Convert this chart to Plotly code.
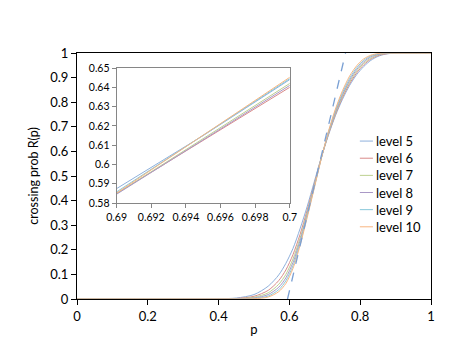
import plotly.graph_objects as go

# data
p = [0, 0.1, 0.2, 0.3, 0.4, 0.45, 0.5, 0.54, 0.57, 0.59, 0.61, 0.63, 0.65, 0.67,
     0.69, 0.71, 0.73, 0.75, 0.77, 0.79, 0.81, 0.83, 0.85, 0.87, 0.9, 0.95, 1.0]

level5 = [0, 0, 0, 0, 0.001, 0.004, 0.018, 0.052, 0.098, 0.145, 0.205, 0.285, 0.375, 0.475,
          0.575, 0.665, 0.745, 0.812, 0.868, 0.912, 0.945, 0.970, 0.986, 0.995, 1.0, 1.0, 1.0]
level6 = [0, 0, 0, 0, 0.0005, 0.002, 0.011, 0.035, 0.075, 0.118, 0.180, 0.262, 0.360, 0.466,
          0.574, 0.668, 0.750, 0.819, 0.875, 0.919, 0.952, 0.975, 0.989, 0.996, 1.0, 1.0, 1.0]
level7 = [0, 0, 0, 0, 0, 0.001, 0.007, 0.025, 0.060, 0.100, 0.162, 0.247, 0.350, 0.460,
          0.573, 0.671, 0.755, 0.825, 0.882, 0.926, 0.958, 0.979, 0.992, 0.998, 1.0, 1.0, 1.0]
level8 = [0, 0, 0, 0, 0, 0.0005, 0.004, 0.018, 0.048, 0.086, 0.148, 0.236, 0.342, 0.456,
          0.572, 0.674, 0.760, 0.831, 0.889, 0.933, 0.964, 0.984, 0.994, 0.999, 1.0, 1.0, 1.0]
level9 = [0, 0, 0, 0, 0, 0, 0.002, 0.012, 0.038, 0.074, 0.135, 0.226, 0.336, 0.452,
          0.571, 0.677, 0.766, 0.839, 0.897, 0.940, 0.970, 0.988, 0.996, 0.999, 1.0, 1.0, 1.0]
level10 = [0, 0, 0, 0, 0, 0, 0.001, 0.008, 0.030, 0.063, 0.124, 0.217, 0.330, 0.449,
           0.570, 0.680, 0.772, 0.847, 0.906, 0.948, 0.976, 0.991, 0.998, 1.0, 1.0, 1.0, 1.0]

# zoomed-in part (inset)
p_zoom = [0.69, 0.695, 0.70]
zoom5 = [0.5875, 0.6150, 0.6440]
zoom6 = [0.5850, 0.6125, 0.6400]
zoom7 = [0.5848, 0.6135, 0.6420]
zoom8 = [0.5846, 0.6128, 0.6410]
zoom9 = [0.5858, 0.6150, 0.6445]
zoom10 = [0.5852, 0.6152, 0.6452]

# dashed tangent line
tangent_p = [0.5947, 0.7586]
tangent_r = [0, 1]

names = ["level 5", "level 6", "level 7", "level 8", "level 9", "level 10"]
colors = ["#8eb0dc", "#d98a88", "#bcd08f", "#a998c6", "#88c8da", "#f8b580"]
main_series = [level5, level6, level7, level8, level9, level10]
zoom_series = [zoom5, zoom6, zoom7, zoom8, zoom9, zoom10]

fig = go.Figure()

for name, col, ys in zip(names, colors, main_series):
    fig.add_trace(go.Scatter(x=p, y=ys, mode="lines", name=name, showlegend=False,
                             line=dict(color=col, width=1, shape="spline", smoothing=0.8)))

fig.add_trace(go.Scatter(x=tangent_p, y=tangent_r, mode="lines", showlegend=False,
                         line=dict(color="#7aa0d4", width=1.3, dash="dash")))

for name, col, ys in zip(names, colors, zoom_series):
    fig.add_trace(go.Scatter(x=p_zoom, y=ys, mode="lines", showlegend=False,
                             xaxis="x2", yaxis="y2", line=dict(color=col, width=1)))

# hand-made legend (short swatches, tight rows like the original)
for i, (name, col) in enumerate(zip(names, colors)):
    yy = 0.642 - i * 0.0697
    fig.add_shape(type="line", xref="paper", yref="paper", x0=0.799, x1=0.836,
                  y0=yy, y1=yy, line=dict(color=col, width=1))
    fig.add_annotation(xref="paper", yref="paper", x=0.839, y=yy, text=name,
                       showarrow=False, xanchor="left", yanchor="middle",
                       font=dict(size=13))

fig.update_layout(
    width=463, height=356,
    margin=dict(l=69, r=40, t=45, b=65),
    paper_bgcolor="white", plot_bgcolor="white",
    font=dict(family="Lato", size=13, color="black"),
    xaxis=dict(range=[0, 1], dtick=0.2, showgrid=False, zeroline=False,
               showline=True, linecolor="black", linewidth=1, mirror=True,
               ticks="outside", ticklen=5, tickcolor="black",
               title=dict(text="p", standoff=2, font=dict(size=13))),
    yaxis=dict(range=[0, 1], dtick=0.1, showgrid=False, zeroline=False,
               showline=True, linecolor="black", linewidth=1, mirror=True,
               ticks="outside", ticklen=5, tickcolor="black",
               title=dict(text="crossing prob R(p)", standoff=8, font=dict(size=12.5))),
    xaxis2=dict(domain=[0.112, 0.601], anchor="y2", range=[0.69, 0.70], dtick=0.002,
                showgrid=False, zeroline=False, showline=True, linecolor="#868686",
                mirror=True, ticks="outside", ticklen=4, tickcolor="#868686",
                tickfont=dict(size=10.5)),
    yaxis2=dict(domain=[0.39, 0.939], anchor="x2", range=[0.58, 0.65], dtick=0.01,
                showgrid=False, zeroline=False, showline=True, linecolor="#868686",
                mirror=True, ticks="outside", ticklen=4, tickcolor="#868686",
                tickfont=dict(size=10.5)),
    showlegend=False,
)

fig.write_html("out.html")
